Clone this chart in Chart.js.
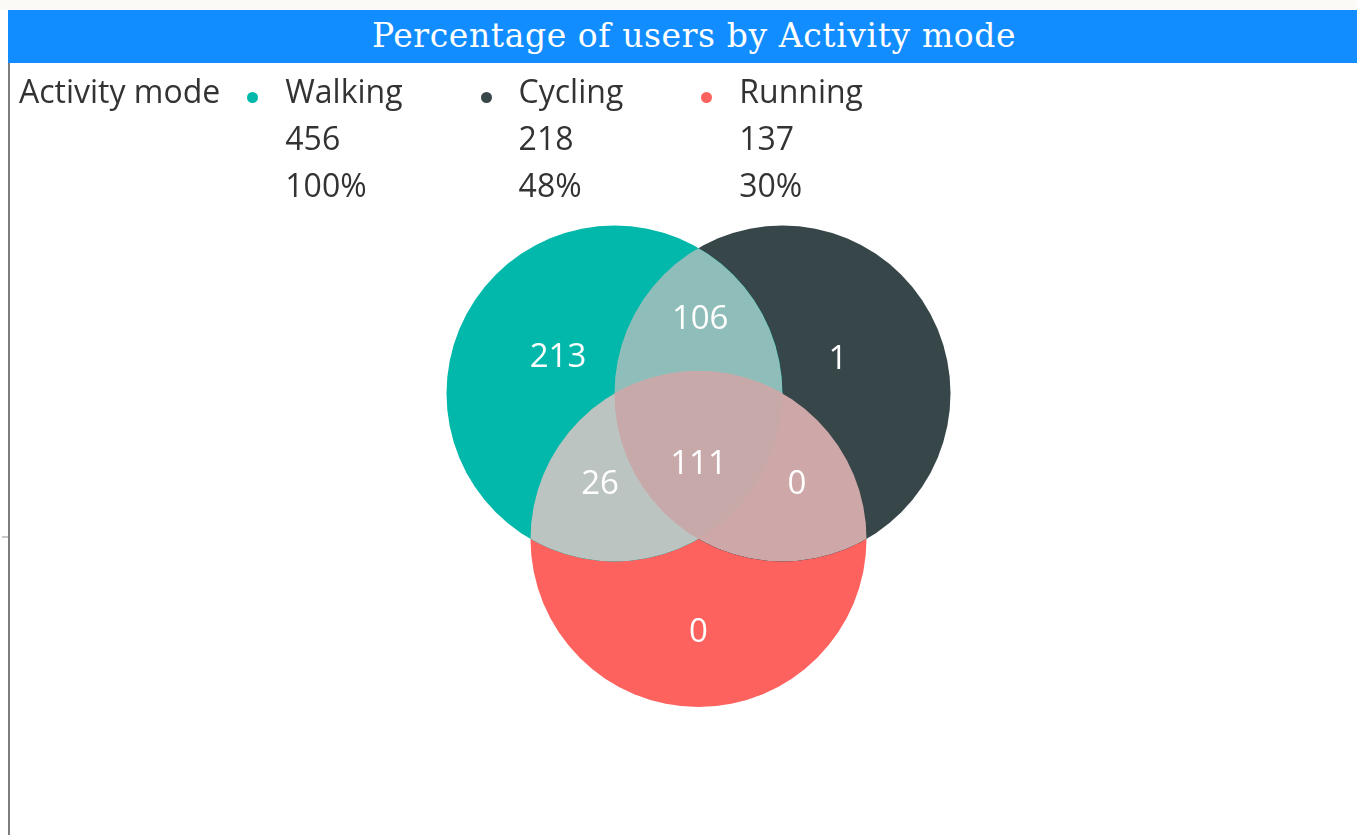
<!DOCTYPE html>
<html>
<head>
<meta charset="utf-8">
<title>Percentage of users by Activity mode</title>
<script src="https://cdn.jsdelivr.net/npm/chart.js@4.4.1/dist/chart.umd.min.js"></script>
<style>
  html, body { margin: 0; padding: 0; background: #ffffff; }
  body { width: 1357px; height: 835px; position: relative; overflow: hidden; font-family: 'Open Sans', sans-serif; }
  #topstrip { position: absolute; left: 0; top: 0; width: 1357px; height: 10px; background: #fbfaf6; }
  #frame { position: absolute; left: 8px; top: 63px; width: 2px; height: 772px; background: #7d7d7d; }
  #tick { position: absolute; left: 2px; top: 536px; width: 6px; height: 2px; background: #c8c8c8; }
  #titlebar { position: absolute; left: 8px; top: 10px; width: 1372px; height: 53px; background: #118dff;
              color: #ffffff; font-family: 'DejaVu Serif', serif; font-size: 33px; letter-spacing: 0.6px;
              line-height: 52px; text-align: center; z-index: 2; }
  #legend { position: absolute; left: 19px; top: 67px; display: flex; color: #333333; font-size: 32px; line-height: 47px; z-index: 2; }
  .item { display: flex; margin-left: 78px; }
  .item.first { margin-left: 27px; }
  .dot { width: 11px; height: 11px; border-radius: 50%; margin-top: 25px; margin-right: 27px; }
  #venn { position: absolute; left: 0; top: 0; z-index: 1; }
</style>
</head>
<body>
<div id="topstrip"></div>
<div id="titlebar">Percentage of users by Activity mode</div>
<div id="frame"></div>
<div id="tick"></div>
<div id="legend"></div>
<canvas id="venn" width="1357" height="835"></canvas>
<script>
// Activity modes and their user counts
const legendTitle = 'Activity mode';
const modes = ['Walking', 'Cycling', 'Running'];
const modeUsers = [456, 218, 137];
const modeShare = [100, 48, 30];

// Exclusive Venn regions: which modes each region belongs to, and its user count
const regionModes = [
  ['Walking'], ['Cycling'], ['Running'],
  ['Walking', 'Cycling'], ['Walking', 'Running'], ['Cycling', 'Running'],
  ['Walking', 'Cycling', 'Running']
];
const regionUsers = [213, 1, 0, 106, 26, 0, 111];

// Styling
const modeColors = ['#01b8aa', '#374649', '#fd625e'];
const overlapColors = {
  'Walking|Cycling': '#8fbdb9',
  'Walking|Running': '#bbc4c0',
  'Cycling|Running': '#cea8a8',
  'Walking|Cycling|Running': '#c8a9a9'
};

// Legend: name, count and share for each mode
const legend = document.getElementById('legend');
const head = document.createElement('div');
head.textContent = legendTitle;
legend.appendChild(head);
modes.forEach((m, i) => {
  const item = document.createElement('div');
  item.className = 'item' + (i === 0 ? ' first' : '');
  const dot = document.createElement('div');
  dot.className = 'dot';
  dot.style.background = modeColors[i];
  const col = document.createElement('div');
  [m, String(modeUsers[i]), modeShare[i] + '%'].forEach(t => {
    const line = document.createElement('div');
    line.textContent = t;
    col.appendChild(line);
  });
  item.appendChild(dot);
  item.appendChild(col);
  legend.appendChild(item);
});

// Symmetric three-circle layout in unit space (circle radius 1, centres one radius apart)
const CIRCLE_R = 1;
const centreDist = CIRCLE_R / Math.sqrt(3);
const modeAngle = { Walking: 150, Cycling: 30, Running: 270 };
const centres = modes.map(m => ({
  x: centreDist * Math.cos(modeAngle[m] * Math.PI / 180),
  y: centreDist * Math.sin(modeAngle[m] * Math.PI / 180)
}));

// Where each region's count is written, in the same unit space
const labelAnchor = {
  'Walking': { x: -0.836, y: 0.50 },
  'Cycling': { x: 0.83, y: 0.49 },
  'Running': { x: 0, y: -1.136 },
  'Walking|Cycling': { x: 0.01, y: 0.727 },
  'Walking|Running': { x: -0.586, y: -0.256 },
  'Cycling|Running': { x: 0.586, y: -0.256 },
  'Walking|Cycling|Running': { x: 0, y: -0.137 }
};

// Viewport of the unit space on the canvas
const PX_PER_UNIT = 168;
const ORIGIN_X = 698.5, ORIGIN_Y = 442;
const W = 1357, H = 835;

function unitRadiusPx(chart) {
  const xs = chart.scales.x;
  return xs.getPixelForValue(CIRCLE_R) - xs.getPixelForValue(0);
}

// Paints the overlap regions and the region counts on top of the circles
const vennOverlaps = {
  id: 'vennOverlaps',
  afterDatasetsDraw(chart) {
    const ctx = chart.ctx;
    const circles = modes.map((m, i) => {
      const el = chart.getDatasetMeta(i).data[0];
      return { x: el.x, y: el.y, r: el.options.radius };
    });
    const idxOf = names => names.map(n => modes.indexOf(n));

    const fillIntersection = (idx, color) => {
      ctx.save();
      idx.forEach(i => {
        ctx.beginPath();
        ctx.arc(circles[i].x, circles[i].y, circles[i].r, 0, Math.PI * 2);
        ctx.clip();
      });
      const c = circles[idx[0]];
      ctx.beginPath();
      ctx.arc(c.x, c.y, c.r, 0, Math.PI * 2);
      ctx.fillStyle = color;
      ctx.fill();
      ctx.restore();
    };
    regionModes.filter(r => r.length === 2).forEach(r => fillIntersection(idxOf(r), overlapColors[r.join('|')]));
    regionModes.filter(r => r.length === 3).forEach(r => fillIntersection(idxOf(r), overlapColors[r.join('|')]));

    const xs = chart.scales.x, ys = chart.scales.y;
    ctx.save();
    ctx.fillStyle = '#ffffff';
    ctx.font = '33px "Open Sans", sans-serif';
    ctx.textAlign = 'center';
    ctx.textBaseline = 'middle';
    regionModes.forEach((names, k) => {
      const a = labelAnchor[names.join('|')];
      ctx.fillText(String(regionUsers[k]), xs.getPixelForValue(a.x), ys.getPixelForValue(a.y));
    });
    ctx.restore();
  }
};

new Chart(document.getElementById('venn'), {
  type: 'scatter',
  data: {
    datasets: modes.map((m, i) => ({
      label: m,
      data: [centres[i]],
      backgroundColor: modeColors[i],
      borderWidth: 0,
      pointRadius: c => unitRadiusPx(c.chart),
      pointHoverRadius: c => unitRadiusPx(c.chart),
      clip: false
    }))
  },
  options: {
    responsive: false,
    animation: false,
    events: [],
    layout: { padding: 0 },
    plugins: { legend: { display: false }, tooltip: { enabled: false }, title: { display: false } },
    scales: {
      x: { type: 'linear', display: false, min: -ORIGIN_X / PX_PER_UNIT, max: (W - ORIGIN_X) / PX_PER_UNIT },
      y: { type: 'linear', display: false, min: -(H - ORIGIN_Y) / PX_PER_UNIT, max: ORIGIN_Y / PX_PER_UNIT }
    }
  },
  plugins: [vennOverlaps]
});
</script>
</body>
</html>
